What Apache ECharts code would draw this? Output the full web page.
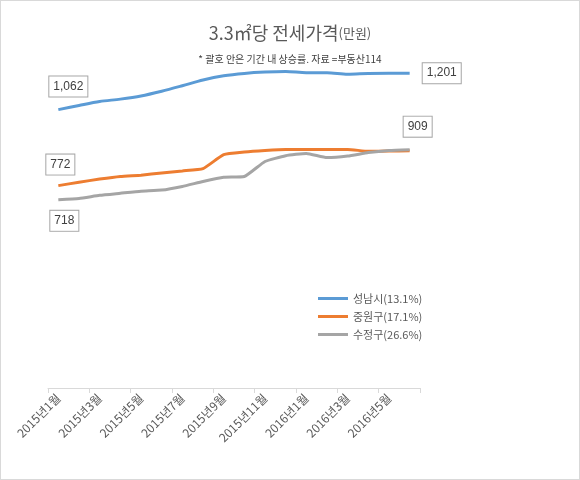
<!DOCTYPE html><html><head><meta charset="utf-8"><script src="https://cdn.jsdelivr.net/npm/echarts@6/dist/echarts.min.js"></script></head><body style="margin:0"><div id="c" style="width:580px;height:480px;box-sizing:border-box;border:1px solid #d9d9d9"></div><script>
const categories=['2015년1월','2015년2월','2015년3월','2015년4월','2015년5월','2015년6월','2015년7월','2015년8월','2015년9월','2015년10월','2015년11월','2015년12월','2016년1월','2016년2월','2016년3월','2016년4월','2016년5월','2016년6월'];
const seongnam=[1062,1078,1093,1102,1114,1132,1153,1175,1191,1200,1205,1207,1203,1203,1197,1200,1201,1201];
const junggu=[772,785,797,807,812,820,828,837,890,900,906,910,910,910,910,903,904,905];
const sujeong=[718,723,735,743,751,755,769,788,804,807,864,886,895,879,885,898,906,909];
const names=['성남시(13.1%)','중원구(17.1%)','수정구(26.6%)'];
const colors=['#5b9bd5','#ed7d31','#a5a5a5'];
const lblBase={show:true,color:'#404040',fontSize:12,fontFamily:'Liberation Sans',backgroundColor:'#fff',borderColor:'#a6a6a6',borderWidth:1,padding:[4,4],formatter:p=>p.value.toLocaleString('en-US')};
function mk(arr,labels){return arr.map((v,i)=>labels[i]?{value:v,label:Object.assign({},lblBase,labels[i])}:v);}
const c=echarts.init(document.getElementById('c'));
const common={type:'line',symbol:'circle',symbolSize:0.1,showSymbol:true,label:{show:false}};
c.setOption({
title:{text:'3.3㎡당 전세가격{s|(만원)}',subtext:'* 괄호 안은 기간 내 상승률. 자료 =부동산114',left:'center',top:18,itemGap:12,
textStyle:{fontSize:18,fontWeight:'normal',color:'#595959',fontFamily:'Noto Sans CJK KR',rich:{s:{fontSize:13,color:'#595959',fontFamily:'Noto Sans CJK KR'}}},
subtextStyle:{fontSize:10,color:'#404040',fontFamily:'Noto Sans CJK KR'}},
legend:{orient:'vertical',left:312,top:287,itemGap:7,itemWidth:30,itemHeight:3,icon:'rect',textStyle:{fontSize:11,color:'#595959',fontFamily:'Noto Sans CJK KR'},data:names},
grid:{left:47,right:159,top:20,bottom:91},
xAxis:{type:'category',data:categories,boundaryGap:true,axisLine:{lineStyle:{color:'#d9d9d9'}},axisTick:{show:true,alignWithLabel:false,lineStyle:{color:'#d9d9d9'}},
axisLabel:{interval:1,rotate:45,color:'#595959',fontSize:12,fontFamily:'Noto Sans CJK KR',margin:8}},
yAxis:{type:'value',min:0,max:1400,show:false,splitLine:{show:false}},
series:[
Object.assign({},common,{name:names[0],smooth:0.3,lineStyle:{width:3,color:colors[0]},itemStyle:{color:colors[0]},
 data:mk(seongnam,{0:{position:'top',offset:[10,-8]},17:{position:'right',offset:[8,0]}})}),
Object.assign({},common,{name:names[1],smooth:0.15,lineStyle:{width:3,color:colors[1]},itemStyle:{color:colors[1]},
 data:mk(junggu,{0:{position:'top',offset:[2,-6]}})}),
Object.assign({},common,{name:names[2],smooth:0.15,lineStyle:{width:3,color:colors[2]},itemStyle:{color:colors[2]},
 data:mk(sujeong,{0:{position:'bottom',offset:[6,6]},17:{position:'top',offset:[8,-8]}})})
]});
</script></body></html>
